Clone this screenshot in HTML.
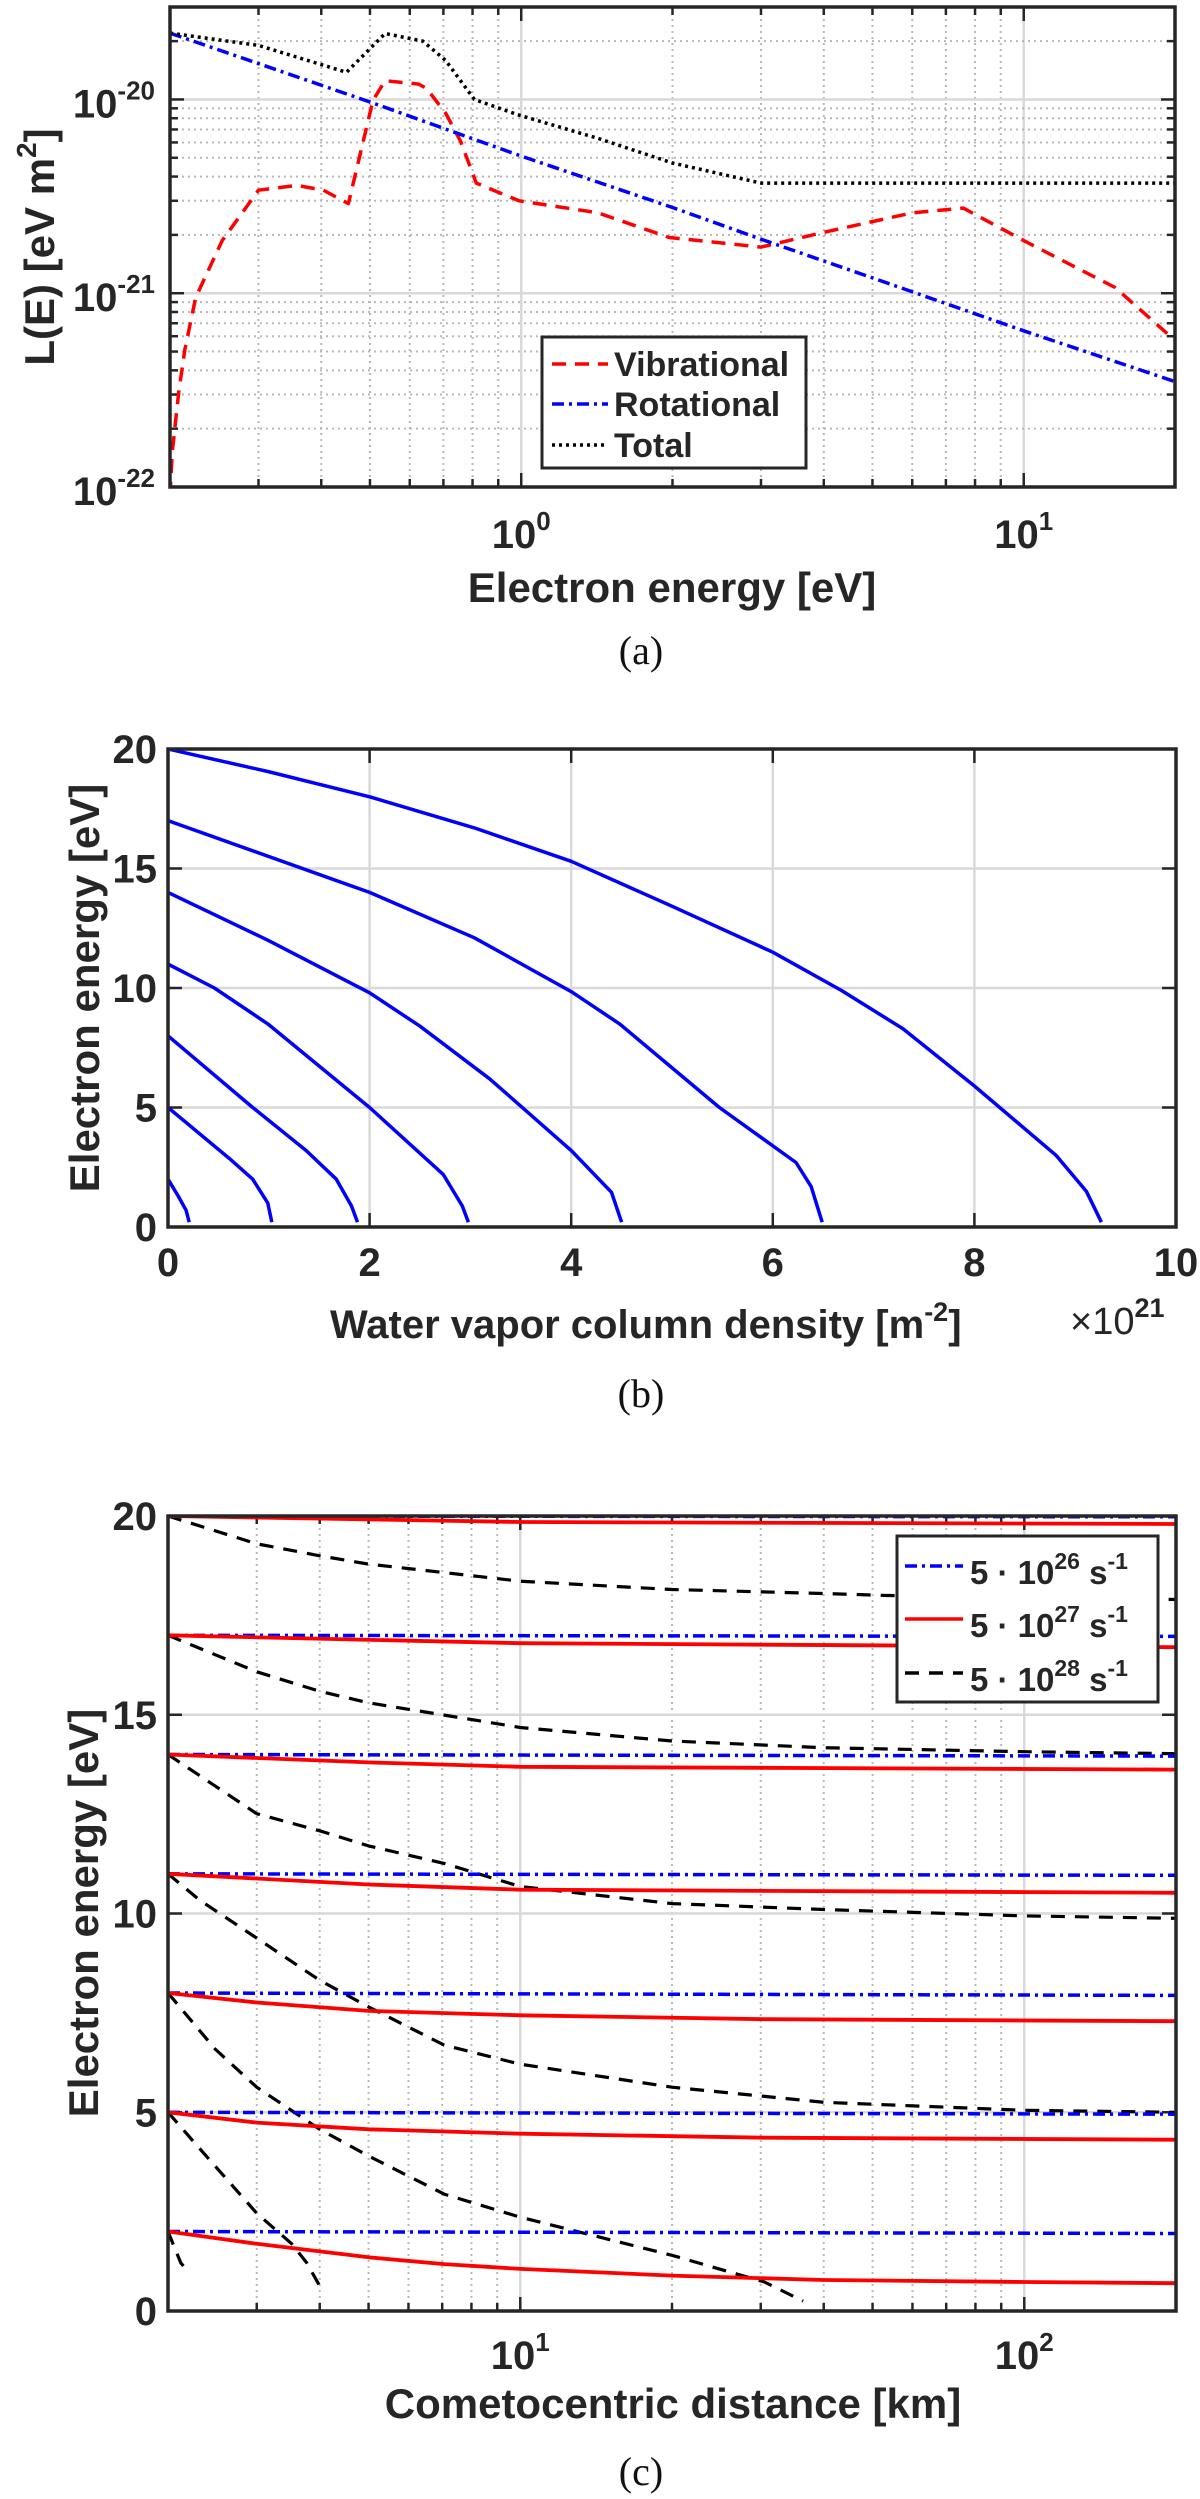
<!DOCTYPE html>
<html><head><meta charset="utf-8"><title>Electron energy degradation figure</title>
<style>
html,body{margin:0;padding:0;background:#fff;}
svg{display:block;}
text{font-family:"Liberation Sans",Arial,sans-serif;font-weight:bold;fill:#262626;}
.serif{font-family:"Liberation Serif","Times New Roman",serif;font-weight:normal;fill:#111;}
</style></head>
<body>
<svg id="fig" xmlns="http://www.w3.org/2000/svg" width="1200" height="2499" viewBox="0 0 1200 2499"></svg>
<script>
// ---------- Panel (a) data ----------
const vibE = [0.2,0.202,0.208,0.214,0.225,0.254,0.30,0.358,0.404,0.453,0.507,0.536,0.625,0.648,0.707,0.757,0.814,0.99,1.42,1.97,3.0,3.96,6.0,7.58,10,15.2,20];
const vibL = [9e-23,1.5e-22,3.05e-22,5.1e-22,9.5e-22,1.87e-21,3.4e-21,3.6e-21,3.4e-21,2.9e-21,9.9e-21,1.25e-20,1.2e-20,1.14e-20,8.5e-21,6.1e-21,3.7e-21,3.0e-21,2.6e-21,1.94e-21,1.73e-21,2.05e-21,2.6e-21,2.75e-21,1.87e-21,1.07e-21,5.7e-22];
const rotE = [0.2,0.5,1,2,3,5,10,20];
const rotL = [2.2e-20,9.7e-21,5.1e-21,2.77e-21,1.9e-21,1.2e-21,6.4e-22,3.5e-22];
const totE = [0.2,0.30,0.449,0.536,0.637,0.707,0.807,0.99,1.42,2,3.0,20];
const totL = [2.2e-20,1.9e-20,1.38e-20,2.19e-20,2.0e-20,1.59e-20,1.0e-20,8.3e-21,6.3e-21,4.7e-21,3.7e-21,3.7e-21];
const aXTicks = [1,10];
const aXTickLabels = ["0","1"];
const aYTicks = [1e-22,1e-21,1e-20];
const aYTickLabels = ["-22","-21","-20"];

// ---------- Panel (b) data ----------
const bX1 = [0,0.1,0.18,0.21];
const bE1 = [2,1.3,0.7,0.2];
const bX2 = [0,0.61,0.84,0.99,1.03];
const bE2 = [5,2.86,2.0,1.0,0.2];
const bX3 = [0,0.84,1.37,1.67,1.82,1.88];
const bE3 = [8,5.0,3.2,2.0,0.88,0.2];
const bX4 = [0,0.46,0.99,2,2.73,2.92,2.98];
const bE4 = [11,10,8.5,5,2.2,0.88,0.2];
const bX5 = [0,0.99,2,2.5,3.19,4,4.4,4.5];
const bE5 = [14,12.0,9.8,8.4,6.2,3.2,1.45,0.2];
const bX6 = [0,2,3.04,4,4.48,5.47,6.23,6.38,6.49];
const bE6 = [17,14.0,12.1,9.85,8.5,5.0,2.7,1.7,0.2];
const bX7 = [0,0.99,2,3.04,4,5.01,6,6.68,7.29,8,8.81,9.11,9.26];
const bE7 = [20,19.06,18.0,16.7,15.3,13.4,11.5,9.9,8.3,5.9,3.0,1.5,0.2];
const bXTicks = [0,2,4,6,8,10];
const bYTicks = [0,5,10,15,20];

// ---------- Panel (c) data ----------
const blueR = [2,200];
const blueStart = [20,17,14,11,8,5,2];
const blueEnd = [19.98,16.97,13.96,10.96,7.94,4.95,1.95];
const red20R = [2,10,200];            const red20E = [20,19.85,19.8];
const red17R = [2,10,200];            const red17E = [17,16.8,16.7];
const red14R = [2,5,10,200];          const red14E = [14,13.8,13.69,13.62];
const red11R = [2,5,10,200];          const red11E = [11,10.73,10.6,10.52];
const red8R = [2,3,5,10,30.5,200];    const red8E = [8,7.76,7.55,7.44,7.34,7.29];
const red5R = [2,3,5,10,30.5,200];    const red5E = [5,4.74,4.57,4.46,4.36,4.31];
const red2R = [2,3,4,5,7.06,10,20,40,100,200]; const red2E = [2,1.69,1.5,1.35,1.18,1.06,0.89,0.78,0.73,0.70];
const blk20R = [2,3,4,5,10,20,40,53.5,200];    const blk20E = [20,19.3,19.0,18.79,18.36,18.15,18.05,18.0,17.9];
const blk17R = [2,3,4,5,10,20,40,100,200];     const blk17E = [17,16.08,15.59,15.3,14.68,14.34,14.17,14.07,14.02];
const blk14R = [2,3,4,5,7.06,10,20,40,100,200]; const blk14E = [14,12.51,12.08,11.7,11.26,10.68,10.25,10.1,9.94,9.88];
const blk11R = [2,2.31,3,4,5,7.06,10,20,40,100,200]; const blk11E = [11,10.34,9.38,8.32,7.65,6.69,6.21,5.63,5.25,5.05,5.0];
const blk8R = [2,2.48,3,4,5,7.06,10,20,30.5,36.4]; const blk8E = [8,6.59,5.63,4.57,3.9,2.94,2.36,1.4,0.73,0.25];
const blk5R = [2,2.31,3,3.52,3.77,4];  const blk5E = [5,4.09,2.46,1.69,1.21,0.63];
const blk2R = [2,2.12,2.2];            const blk2E = [2,1.21,0.97];
const cXTicks = [10,100];
const cXTickLabels = ["1","2"];
const cYTicks = [0,5,10,15,20];

// ---------- helpers ----------
const NS = 'http://www.w3.org/2000/svg';
const svg = document.getElementById('fig');
function mk(tag, attrs, parent) {
  const e = document.createElementNS(NS, tag);
  for (const k in attrs) e.setAttribute(k, attrs[k]);
  (parent || svg).appendChild(e);
  return e;
}
function linScale(d0, d1, r0, r1) { return v => r0 + (v - d0) / (d1 - d0) * (r1 - r0); }
function logScale(d0, d1, r0, r1) { const l0 = Math.log10(d0), l1 = Math.log10(d1); return v => r0 + (Math.log10(v) - l0) / (l1 - l0) * (r1 - r0); }

const A = {x0:170, x1:1175, y0:7, y1:487};
const B = {x0:168, x1:1176, y0:749, y1:1227};
const C = {x0:168, x1:1176, y0:1516, y1:2311};
const ax = logScale(0.2, 20, A.x0, A.x1);
const ay = logScale(1e-22, 3e-20, A.y1, A.y0);
const bx = linScale(0, 10, B.x0, B.x1);
const by = linScale(0, 20, B.y1, B.y0);
const cx = logScale(2, 200, C.x0, C.x1);
const cy = linScale(0, 20, C.y1, C.y0);

const defs = mk('defs', {});
[['clipA',A],['clipB',B],['clipC',C]].forEach(([id,P]) => {
  const cp = mk('clipPath', {id:id}, defs);
  mk('rect', {x:P.x0, y:P.y0, width:P.x1-P.x0, height:P.y1-P.y0}, cp);
});

function gridLine(g, x1, y1, x2, y2, major) {
  const l = mk('line', {x1:x1, y1:y1, x2:x2, y2:y2, stroke: major ? '#d9d9d9' : '#b8b8b8', 'stroke-width': major ? 2.5 : 2, 'stroke-dasharray': major ? 'none' : '2 4'}, g);
  
  
}
function tick(g, x1, y1, x2, y2) {
  const l = mk('line', {x1:x1, y1:y1, x2:x2, y2:y2, stroke:'#262626', 'stroke-width':2.5}, g);
  
  
}
function polyline(g, xs, ys, fx, fy, color, dash, width, name) {
  const pts = xs.map((v, i) => fx(v).toFixed(1) + ',' + fy(ys[i]).toFixed(1)).join(' ');
  const p = mk('polyline', {points:pts, fill:'none', stroke:color, 'stroke-width':width || 3, 'stroke-dasharray':dash, 'stroke-linejoin':'round'}, g);
  
  
  return p;
}
function frame(g, P) {
  const r = mk('rect', {x:P.x0, y:P.y0, width:P.x1-P.x0, height:P.y1-P.y0, fill:'none', stroke:'#262626', 'stroke-width':3.5}, g);
  
  
}
function supText(g, x, y, base, sup, anchor, size, supSize, name) {
  const t = mk('text', {x:x, y:y, 'text-anchor':anchor, 'font-size':size}, g);
  
  
  const t1 = mk('tspan', {}, t); t1.textContent = base;
  const t2 = mk('tspan', {dy:-size*0.45, 'font-size':supSize}, t); t2.textContent = sup;
  return t;
}
function plainText(g, x, y, str, anchor, size, name, cls) {
  const t = mk('text', {x:x, y:y, 'text-anchor':anchor, 'font-size':size}, g);
  if (cls) t.setAttribute('class', cls);
  
  
  t.textContent = str;
  return t;
}
function logMinors(lo, hi) {
  const out = [];
  for (let d = Math.floor(Math.log10(lo)); d <= Math.ceil(Math.log10(hi)); d++) {
    for (let m = 1; m <= 9; m++) { const v = m * Math.pow(10, d); if (v >= lo*0.999 && v <= hi*1.001) out.push({v:v, major:m===1}); }
  }
  return out;
}

// ================= Panel A =================
const gA = mk('g', {});


logMinors(0.2, 20).forEach(t => { gridLine(gA, ax(t.v), A.y0, ax(t.v), A.y1, t.major); });
logMinors(1e-22, 3e-20).forEach(t => { gridLine(gA, A.x0, ay(t.v), A.x1, ay(t.v), t.major); });
logMinors(0.2, 20).forEach(t => { const L = t.major ? 14 : 8; const x = ax(t.v);
  tick(gA, x, A.y1, x, A.y1 - L); tick(gA, x, A.y0, x, A.y0 + L); });
logMinors(1e-22, 3e-20).forEach(t => { const L = t.major ? 14 : 8; const y = ay(t.v);
  tick(gA, A.x0, y, A.x0 + L, y); tick(gA, A.x1, y, A.x1 - L, y); });
const dA = mk('g', {'clip-path':'url(#clipA)'}, gA);
polyline(dA, vibE, vibL, ax, ay, '#ff0000', '14 9', 3.5, 'vibrational-line');
polyline(dA, rotE, rotL, ax, ay, '#0000ff', '12 5 3 5', 3.5, 'rotational-line');
polyline(dA, totE, totL, ax, ay, '#000000', '3 4', 3.5, 'total-line');
frame(gA, A);
aXTicks.forEach((v, i) => supText(gA, ax(v), 548, '10', aXTickLabels[i], 'middle', 40, 26, 'x-tick-label'));
aYTicks.forEach((v, i) => supText(gA, 155, ay(v) + 18, '10', aYTickLabels[i], 'end', 40, 26, 'y-tick-label'));
plainText(gA, 672, 602, 'Electron energy [eV]', 'middle', 42, 'x-axis-title');
const ayl = mk('text', {x:0, y:0, 'text-anchor':'middle', 'font-size':42, transform:'translate(54,247) rotate(-90)'}, gA);


const ayl1 = mk('tspan', {}, ayl); ayl1.textContent = 'L(E) [eV m';
const ayl2 = mk('tspan', {dy:-18, 'font-size':28}, ayl); ayl2.textContent = '2';
const ayl3 = mk('tspan', {dy:18}, ayl); ayl3.textContent = ']';
// legend A
const lgA = mk('g', {}, gA);


const lgAbox = mk('rect', {x:542, y:337, width:264, height:131, fill:'#fff', stroke:'#262626', 'stroke-width':3}, lgA);


[['Vibrational','#ff0000','14 9',364],['Rotational','#0000ff','12 5 3 5',404],['Total','#000000','3 4',445]].forEach(e => {
  const l = mk('line', {x1:552, y1:e[3], x2:608, y2:e[3], stroke:e[1], 'stroke-width':3.5, 'stroke-dasharray':e[2]}, lgA);
  
  
  plainText(lgA, 614, e[3] + 12, e[0], 'start', 34, 'legend-entry');
});
plainText(gA, 641, 664, '(a)', 'middle', 40, 'panel-label-a', 'serif');

// ================= Panel B =================
const gB = mk('g', {});


bXTicks.forEach(v => { if (v > 0 && v < 10) gridLine(gB, bx(v), B.y0, bx(v), B.y1, true); });
bYTicks.forEach(v => { if (v > 0 && v < 20) gridLine(gB, B.x0, by(v), B.x1, by(v), true); });
bXTicks.forEach(v => { tick(gB, bx(v), B.y1, bx(v), B.y1 - 14); tick(gB, bx(v), B.y0, bx(v), B.y0 + 14); });
bYTicks.forEach(v => { tick(gB, B.x0, by(v), B.x0 + 14, by(v)); tick(gB, B.x1, by(v), B.x1 - 14, by(v)); });
const dB = mk('g', {'clip-path':'url(#clipB)'}, gB);
[[bX1,bE1],[bX2,bE2],[bX3,bE3],[bX4,bE4],[bX5,bE5],[bX6,bE6],[bX7,bE7]].forEach((c, i) => {
  polyline(dB, c[0], c[1], bx, by, '#0000ff', 'none', 3.5, 'energy-curve-' + (i + 1));
});
frame(gB, B);
bXTicks.forEach(v => plainText(gB, bx(v), 1276, String(v), 'middle', 40, 'x-tick-label'));
bYTicks.forEach(v => plainText(gB, 157, by(v) + 14, String(v), 'end', 40, 'y-tick-label'));
const bxl = mk('text', {x:330, y:1338, 'text-anchor':'start', 'font-size':40}, gB);


const bxl1 = mk('tspan', {}, bxl); bxl1.textContent = 'Water vapor column density [m';
const bxl2 = mk('tspan', {dy:-17, 'font-size':27}, bxl); bxl2.textContent = '-2';
const bxl3 = mk('tspan', {dy:17}, bxl); bxl3.textContent = ']';
const bmul = mk('text', {x:1070, y:1334, 'font-size':38}, gB);


const bm1 = mk('tspan', {'font-weight':'normal'}, bmul); bm1.textContent = '×10';
const bm2 = mk('tspan', {dy:-17, 'font-size':27}, bmul); bm2.textContent = '21';
const byl = plainText(gB, 0, 0, 'Electron energy [eV]', 'middle', 42, 'y-axis-title');
byl.setAttribute('transform', 'translate(99,988) rotate(-90)');
plainText(gB, 641, 1407, '(b)', 'middle', 40, 'panel-label-b', 'serif');

// ================= Panel C =================
const gC = mk('g', {});


logMinors(2, 200).forEach(t => { if (t.v > 2 && t.v < 200) gridLine(gC, cx(t.v), C.y0, cx(t.v), C.y1, t.major); });
cYTicks.forEach(v => { if (v > 0 && v < 20) gridLine(gC, C.x0, cy(v), C.x1, cy(v), true); });
logMinors(2, 200).forEach(t => { const L = t.major ? 14 : 8; const x = cx(t.v);
  tick(gC, x, C.y1, x, C.y1 - L); tick(gC, x, C.y0, x, C.y0 + L); });
cYTicks.forEach(v => { tick(gC, C.x0, cy(v), C.x0 + 14, cy(v)); tick(gC, C.x1, cy(v), C.x1 - 14, cy(v)); });
const dC = mk('g', {'clip-path':'url(#clipC)'}, gC);
[[blk20R,blk20E],[blk17R,blk17E],[blk14R,blk14E],[blk11R,blk11E],[blk8R,blk8E],[blk5R,blk5E],[blk2R,blk2E]].forEach((c, i) => {
  polyline(dC, c[0], c[1], cx, cy, '#000000', '14 10', 3.2, 'rate-5e28-curve-' + (i + 1));
});
blueStart.forEach((s, i) => {
  polyline(dC, blueR, [s, blueEnd[i]], cx, cy, '#0000ff', '12 5 3 5', 3.5, 'rate-5e26-curve-' + (i + 1));
});
[[red20R,red20E],[red17R,red17E],[red14R,red14E],[red11R,red11E],[red8R,red8E],[red5R,red5E],[red2R,red2E]].forEach((c, i) => {
  polyline(dC, c[0], c[1], cx, cy, '#ff0000', 'none', 3.8, 'rate-5e27-curve-' + (i + 1));
});
frame(gC, C);
cXTicks.forEach((v, i) => supText(gC, cx(v), 2369, '10', cXTickLabels[i], 'middle', 40, 26, 'x-tick-label'));
cYTicks.forEach(v => plainText(gC, 157, cy(v) + 14, String(v), 'end', 40, 'y-tick-label'));
plainText(gC, 673, 2418, 'Cometocentric distance [km]', 'middle', 42, 'x-axis-title');
const cyl = plainText(gC, 0, 0, 'Electron energy [eV]', 'middle', 42, 'y-axis-title');
cyl.setAttribute('transform', 'translate(98,1913) rotate(-90)');
// legend C
const lgC = mk('g', {}, gC);


const lgCbox = mk('rect', {x:897, y:1536, width:261, height:166, fill:'#fff', stroke:'#262626', 'stroke-width':3}, lgC);


[['26','#0000ff','12 5 3 5',1566],['27','#ff0000','none',1619],['28','#000000','14 10',1673]].forEach(e => {
  const l = mk('line', {x1:905, y1:e[3], x2:963, y2:e[3], stroke:e[1], 'stroke-width':3.5, 'stroke-dasharray':e[2]}, lgC);
  
  
  const t = mk('text', {x:970, y:e[3] + 18, 'font-size':33}, lgC);
  
  
  const a = mk('tspan', {}, t); a.textContent = '5 · 10';
  const b = mk('tspan', {dy:-15, 'font-size':23}, t); b.textContent = e[0];
  const c = mk('tspan', {dy:15}, t); c.textContent = ' s';
  const d = mk('tspan', {dy:-15, 'font-size':23}, t); d.textContent = '-1';
});
plainText(gC, 641, 2485, '(c)', 'middle', 40, 'panel-label-c', 'serif');
</script>
</body></html>
